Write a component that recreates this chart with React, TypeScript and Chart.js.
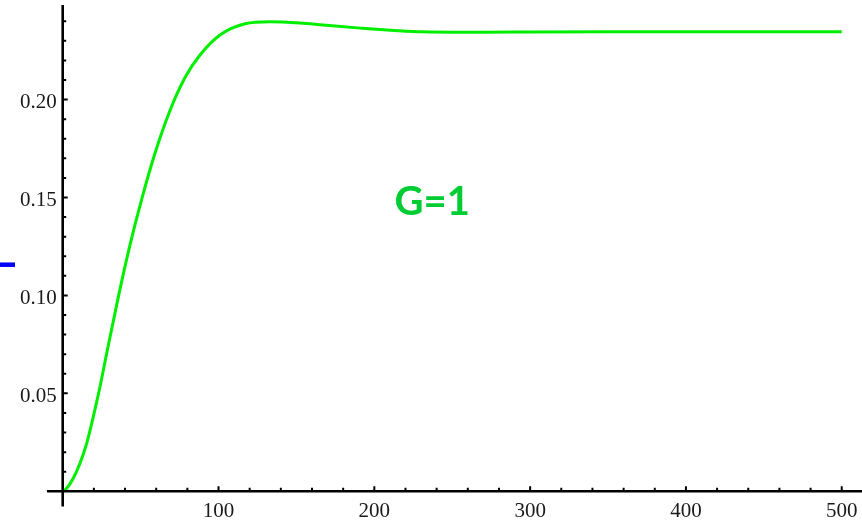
import React, { useEffect, useRef } from "react";
import { Chart, registerables } from "chart.js";

Chart.register(...registerables);

// ---- data ----
const timeValues = [0, 2.57, 6.8, 11.1, 15.4, 19.64, 23.94, 28.24, 35.82, 43.2, 50.9, 59.24, 68.87, 78.5, 88.13, 100.96, 117.01, 133.06, 152.3, 167, 191, 199, 215, 231, 250, 270, 300, 350, 400, 450, 500];
const responseValues = [0, 0.00153, 0.00664, 0.0143, 0.02451, 0.03809, 0.05341, 0.07046, 0.09967, 0.12581, 0.14971, 0.17263, 0.19443, 0.21129, 0.22277, 0.23298, 0.23873, 0.23975, 0.2391, 0.2381, 0.2365, 0.236, 0.2352, 0.2346, 0.2344, 0.2344, 0.2345, 0.2346, 0.2347, 0.2347, 0.2347];

const xMajorTicks = [100, 200, 300, 400, 500];
const xTickLabels = ["100", "200", "300", "400", "500"];
const xMinorStep = 20;
const yMajorTicks = [0.05, 0.1, 0.15, 0.2];
const yTickLabels = ["0.05", "0.10", "0.15", "0.20"];
const yMinorStep = 0.01;

const annotationText = "G=1";
const annotationX = 213;
const annotationY = 0.1411;

// blue stub at left edge
const blueMarkX = [-40.3, -30.6];
const blueMarkY = 0.1157;

// view ranges
const X_MIN = -40.24;
const X_MAX = 513.0;
const Y_MIN = -0.01721;
const Y_MAX = 0.25086;
const X_AXIS_START = -10.1;
const Y_AXIS_TOP = 0.2483;
const Y_AXIS_BOTTOM = -0.0078;

const axesPlugin = {
  id: "mathAxes",
  afterDatasetsDraw(chart: any) {
    const ctx = chart.ctx;
    const xs = chart.scales.x;
    const ys = chart.scales.y;
    const x0 = xs.getPixelForValue(0);
    const y0 = ys.getPixelForValue(0);
    ctx.save();
    ctx.strokeStyle = "#000";
    ctx.lineCap = "butt";
    // axes
    ctx.lineWidth = 2.6;
    ctx.beginPath();
    ctx.moveTo(xs.getPixelForValue(X_AXIS_START), y0);
    ctx.lineTo(chart.width, y0);
    ctx.moveTo(x0, ys.getPixelForValue(Y_AXIS_TOP));
    ctx.lineTo(x0, ys.getPixelForValue(Y_AXIS_BOTTOM));
    ctx.stroke();

    // x ticks
    ctx.lineWidth = 2;
    ctx.beginPath();
    for (let v = xMinorStep; v <= X_MAX; v += xMinorStep) {
      const px = xs.getPixelForValue(v);
      const major = xMajorTicks.includes(Math.round(v));
      const len = major ? 5 : 3.5;
      ctx.moveTo(px, y0);
      ctx.lineTo(px, y0 - len);
    }
    // y ticks
    for (let i = 1; i * yMinorStep <= Y_AXIS_TOP; i++) {
      const v = i * yMinorStep;
      const py = ys.getPixelForValue(v);
      const major = i % 5 === 0;
      const len = major ? 5 : 3.5;
      ctx.moveTo(x0, py);
      ctx.lineTo(x0 + len, py);
    }
    ctx.stroke();

    // labels
    ctx.fillStyle = "#1a1a1a";
    ctx.font = '21px "Liberation Serif", "Times New Roman", serif';
    ctx.textAlign = "center";
    ctx.textBaseline = "alphabetic";
    xMajorTicks.forEach((v, i) => {
      ctx.fillText(xTickLabels[i], xs.getPixelForValue(v), y0 + 26);
    });
    ctx.textAlign = "right";
    yMajorTicks.forEach((v, i) => {
      ctx.fillText(yTickLabels[i], x0 - 6, ys.getPixelForValue(v) + 8.5);
    });

    // annotation
    ctx.fillStyle = "#00cc33";
    ctx.font = 'bold 40px Lato, "Open Sans", sans-serif';
    ctx.textAlign = "left";
    ctx.fillText(annotationText, xs.getPixelForValue(annotationX), ys.getPixelForValue(annotationY));
    ctx.restore();
  },
};

export default function App() {
  const canvasRef = useRef<HTMLCanvasElement | null>(null);

  useEffect(() => {
    const canvas = canvasRef.current;
    if (!canvas) return;
    const chart = new Chart(canvas, {
      type: "line",
      data: {
        datasets: [
          {
            label: "response",
            data: timeValues.map((t, i) => ({ x: t, y: responseValues[i] })),
            borderColor: "#00ee00",
            borderWidth: 3,
            pointRadius: 0,
            cubicInterpolationMode: "monotone",
            fill: false,
          },
          {
            label: "mark",
            data: blueMarkX.map((x) => ({ x, y: blueMarkY })),
            borderColor: "#0000ff",
            borderWidth: 4.5,
            pointRadius: 0,
            fill: false,
          },
        ],
      },
      options: {
        animation: false,
        responsive: false,
        devicePixelRatio: 1,
        layout: { padding: 0 },
        plugins: { legend: { display: false }, tooltip: { enabled: false } },
        scales: {
          x: { type: "linear", min: X_MIN, max: X_MAX, display: false },
          y: { type: "linear", min: Y_MIN, max: Y_MAX, display: false },
        },
      },
      plugins: [axesPlugin],
    });
    return () => chart.destroy();
  }, []);

  return (
    <div style={{ position: "absolute", left: 0, top: 0, width: 862, height: 525, background: "#fff" }}>
      <canvas ref={canvasRef} width={862} height={525} style={{ display: "block" }} />
    </div>
  );
}
